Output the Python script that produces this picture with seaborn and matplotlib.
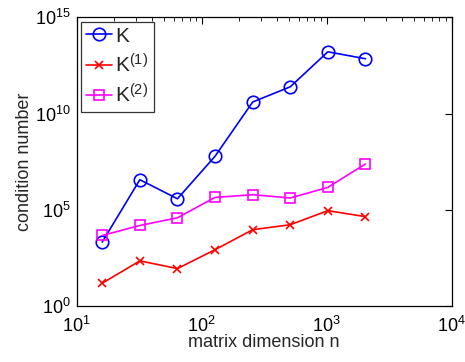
import numpy as np
import pandas as pd
import matplotlib
matplotlib.use("Agg")
import matplotlib.pyplot as plt
import matplotlib.ticker as mticker
import seaborn as sns

n = [16, 32, 64, 128, 256, 512, 1024, 2048]
log_K = [3.32, 6.56, 5.57, 7.78, 10.6, 11.39, 13.21, 12.85]
log_K1 = [1.18, 2.34, 1.94, 2.92, 3.96, 4.22, 4.95, 4.64]
log_K2 = [3.66, 4.18, 4.58, 5.64, 5.78, 5.61, 6.16, 7.38]
labels = ["K", "K$^{(1)}$", "K$^{(2)}$"]

sns.set_theme(style="white")
plt.rcParams['font.family'] = ['Liberation Sans', 'DejaVu Sans']
plt.rcParams['mathtext.fontset'] = 'custom'
plt.rcParams['mathtext.rm'] = 'Liberation Sans'
plt.rcParams['mathtext.it'] = 'Liberation Sans'

fig = plt.figure(figsize=(4.65, 3.62), dpi=100)
ax = fig.add_axes([0.165, 0.155, 0.806, 0.797])

series = [
    (log_K, labels[0], "blue", "o", dict(markersize=9, markerfacecolor="none", markeredgecolor="blue", markeredgewidth=1.2)),
    (log_K1, labels[1], "red", "x", dict(markersize=6, markeredgecolor="red", markeredgewidth=1.2)),
    (log_K2, labels[2], "magenta", "s", dict(markersize=7, markerfacecolor="none", markeredgecolor="magenta", markeredgewidth=1.2)),
]
for vals, lab, col, mk, kw in series:
    df = pd.DataFrame({"n": n, "v": 10.0 ** np.array(vals)})
    sns.lineplot(data=df, x="n", y="v", ax=ax, color=col, marker=mk, label=lab, linewidth=1.2, **kw)

ax.set_xscale("log")
ax.set_yscale("log")
ax.set_xlim(10, 1e4)
ax.set_ylim(1, 1e15)
ax.yaxis.set_major_locator(mticker.FixedLocator([1, 1e5, 1e10, 1e15]))
ax.yaxis.set_minor_locator(mticker.NullLocator())
ax.xaxis.set_major_locator(mticker.LogLocator(base=10))
ax.xaxis.set_minor_locator(mticker.LogLocator(base=10, subs=np.arange(2, 10)))
ax.yaxis.set_major_formatter(mticker.LogFormatterSciNotation())
ax.tick_params(which="both", direction="in", top=True, right=True, labelsize=13, colors="black")
ax.tick_params(which="major", length=5, width=0.8)
ax.tick_params(which="minor", length=3, width=0.6)
ax.tick_params(axis="x", which="major", pad=7)
ax.tick_params(axis="y", which="major", pad=4)
for s in ax.spines.values():
    s.set_color("black")
    s.set_linewidth(0.9)
ax.set_xlabel("matrix dimension n", fontsize=13, labelpad=-1)
ax.set_ylabel("condition number", fontsize=13, labelpad=2)

leg = ax.legend(loc="upper left", fontsize=15, frameon=True, fancybox=False,
                edgecolor="black", handlelength=1.25, handletextpad=0.15,
                borderpad=0.25, labelspacing=0.35, borderaxespad=0.2)
leg.get_frame().set_linewidth(0.9)

fig.savefig("out.png", dpi=100)
